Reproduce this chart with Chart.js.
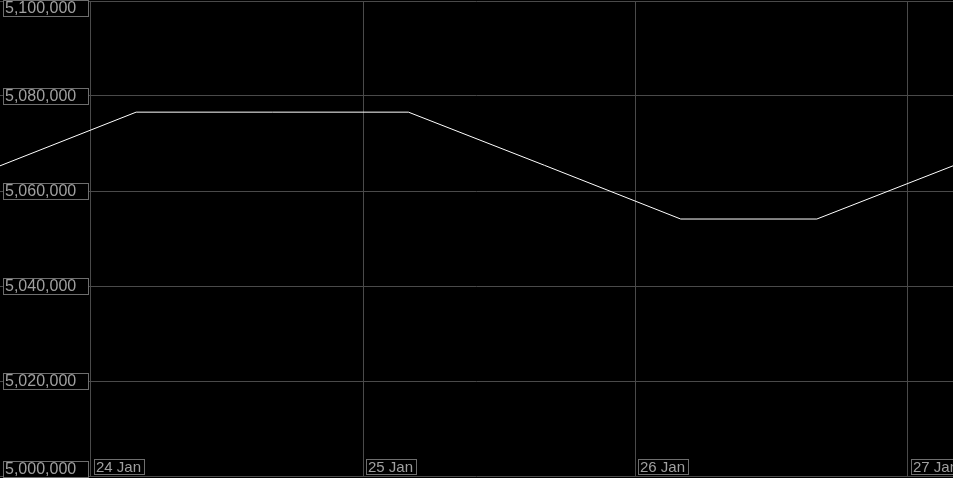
<!DOCTYPE html>
<html>
<head>
<meta charset="utf-8">
<script src="https://cdn.jsdelivr.net/npm/chart.js@4/dist/chart.umd.min.js"></script>
<style>
  html, body { margin: 0; padding: 0; background: #000; }
  #wrap { width: 953px; height: 478px; }
</style>
</head>
<body>
<div id="wrap"><canvas id="c" width="953" height="478"></canvas></div>
<script>
// ---- data ----
const times = ["23 Jan 16:00", "24 Jan 04:00", "24 Jan 16:00", "25 Jan 04:00",
               "25 Jan 16:00", "26 Jan 04:00", "26 Jan 16:00", "27 Jan 04:00"];
const values = [5065300, 5076600, 5076600, 5076600, 5065400, 5054100, 5054100, 5065300];
const xTickLabels = ["24 Jan", "25 Jan", "26 Jan", "27 Jan"];
const yTickValues = [5000000, 5020000, 5040000, 5060000, 5080000, 5100000];

// hours relative to 24 Jan 00:00
function toHours(s) {
  const m = s.match(/^(\d+) Jan (\d+):(\d+)$/);
  return (parseInt(m[1], 10) - 24) * 24 + parseInt(m[2], 10) + parseInt(m[3], 10) / 60;
}
function labelToHours(s) {
  return (parseInt(s, 10) - 24) * 24;
}
const points = times.map((t, i) => ({ x: toHours(t), y: values[i] }));
const xTickHours = xTickLabels.map(labelToHours);

const GRID = '#4a4a4a';
const BOX = '#6e6e6e';
const TXT = '#a0a0a0';
const YFONT = '16px "Liberation Sans", Arial, sans-serif';
const XFONT = '15px "Liberation Sans", Arial, sans-serif';

const boxLabels = {
  id: 'boxLabels',
  afterDraw(chart) {
    const ctx = chart.ctx;
    const H = chart.height;
    ctx.save();
    ctx.textBaseline = 'middle';
    ctx.textAlign = 'left';
    ctx.lineWidth = 1;
    // y labels
    ctx.font = YFONT;
    const ys = chart.scales.y;
    ys.ticks.forEach((t) => {
      const py = ys.getPixelForValue(t.value);
      const h = 16, w = 85;
      let top = Math.round(py - h / 2);
      top = Math.max(0, Math.min(H - h - 1, top));
      ctx.fillStyle = '#000';
      ctx.fillRect(3, top, w, h);
      ctx.strokeStyle = BOX;
      ctx.strokeRect(3.5, top + 0.5, w, h);
      ctx.fillStyle = TXT;
      ctx.fillText(Number(t.value).toLocaleString('en-US'), 5, top + h / 2 + 1);
    });
    // x labels
    ctx.font = XFONT;
    const xs = chart.scales.x;
    xs.ticks.forEach((t, i) => {
      const px = Math.round(xs.getPixelForValue(t.value));
      const label = xTickLabels[i];
      const w = Math.ceil(ctx.measureText(label).width) + 4;
      const h = 15, top = 459;
      const left = px + 3;
      ctx.fillStyle = '#000';
      ctx.fillRect(left, top, w, h);
      ctx.strokeStyle = BOX;
      ctx.strokeRect(left + 0.5, top + 0.5, w, h);
      ctx.fillStyle = TXT;
      ctx.fillText(label, left + 2, top + h / 2 + 1);
    });
    ctx.restore();
  }
};

new Chart(document.getElementById('c'), {
  type: 'line',
  data: {
    datasets: [{
      data: points,
      borderColor: '#ffffff',
      borderWidth: 1,
      pointRadius: 0,
      fill: false,
      tension: 0
    }]
  },
  options: {
    responsive: false,
    devicePixelRatio: 1,
    animation: false,
    layout: { padding: { top: 1, bottom: 2, left: 0, right: 0 } },
    plugins: { legend: { display: false }, tooltip: { enabled: false } },
    scales: {
      x: {
        type: 'linear',
        min: -8,
        max: 76,
        afterBuildTicks: (s) => { s.ticks = xTickHours.map(v => ({ value: v })); },
        ticks: { display: false },
        grid: { color: GRID, drawTicks: false, lineWidth: 1 },
        border: { display: false }
      },
      y: {
        min: 5000000,
        max: 5100000,
        afterBuildTicks: (s) => { s.ticks = yTickValues.map(v => ({ value: v })); },
        ticks: { display: false },
        grid: { color: GRID, drawTicks: false, lineWidth: 1 },
        border: { display: false }
      }
    }
  },
  plugins: [boxLabels]
});
</script>
</body>
</html>
